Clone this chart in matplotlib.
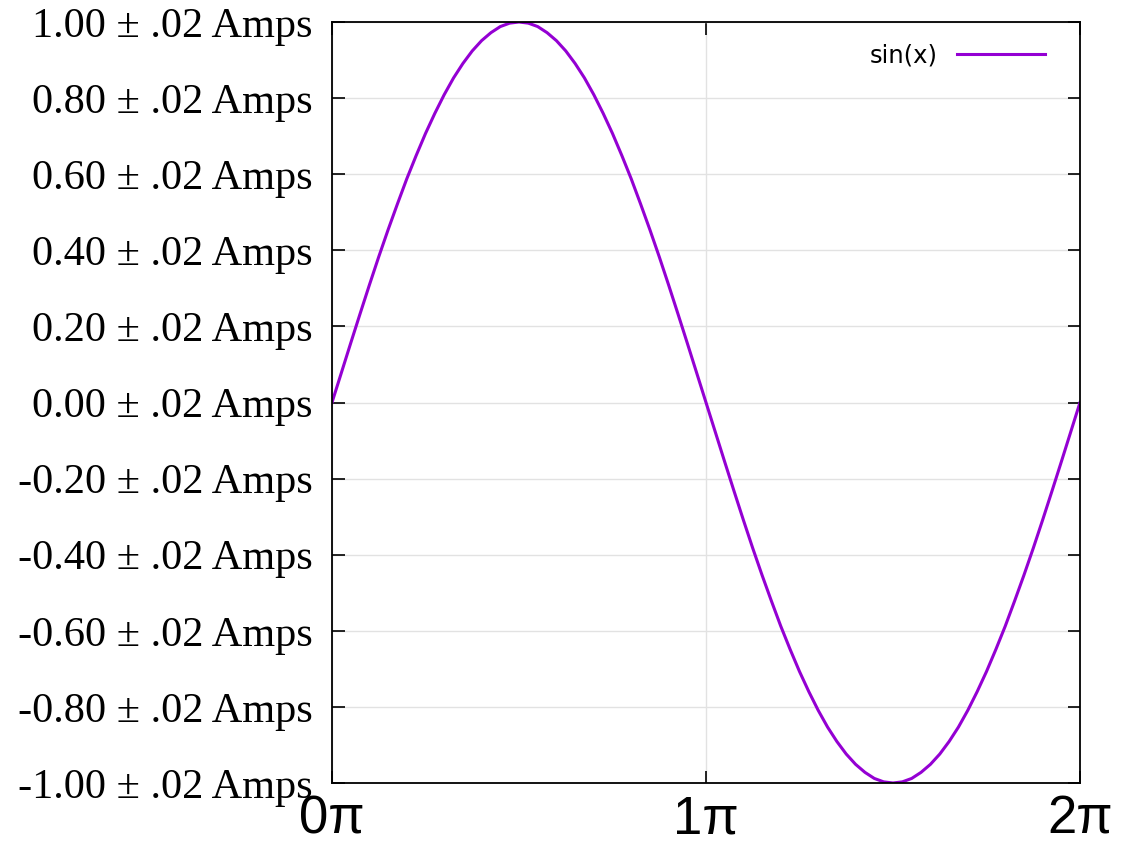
import matplotlib
matplotlib.use("Agg")
import matplotlib.pyplot as plt

# x positions in units of pi
x_pi = [0.000, 0.025, 0.050, 0.075, 0.100, 0.125, 0.150, 0.175, 0.200, 0.225,
        0.250, 0.275, 0.300, 0.325, 0.350, 0.375, 0.400, 0.425, 0.450, 0.475,
        0.500, 0.525, 0.550, 0.575, 0.600, 0.625, 0.650, 0.675, 0.700, 0.725,
        0.750, 0.775, 0.800, 0.825, 0.850, 0.875, 0.900, 0.925, 0.950, 0.975,
        1.000, 1.025, 1.050, 1.075, 1.100, 1.125, 1.150, 1.175, 1.200, 1.225,
        1.250, 1.275, 1.300, 1.325, 1.350, 1.375, 1.400, 1.425, 1.450, 1.475,
        1.500, 1.525, 1.550, 1.575, 1.600, 1.625, 1.650, 1.675, 1.700, 1.725,
        1.750, 1.775, 1.800, 1.825, 1.850, 1.875, 1.900, 1.925, 1.950, 1.975, 2.000]
amps = [0.000, 0.078, 0.156, 0.233, 0.309, 0.383, 0.454, 0.522, 0.588, 0.649,
        0.707, 0.760, 0.809, 0.853, 0.891, 0.924, 0.951, 0.972, 0.988, 0.997,
        1.000, 0.997, 0.988, 0.972, 0.951, 0.924, 0.891, 0.853, 0.809, 0.760,
        0.707, 0.649, 0.588, 0.522, 0.454, 0.383, 0.309, 0.233, 0.156, 0.078,
        0.000, -0.078, -0.156, -0.233, -0.309, -0.383, -0.454, -0.522, -0.588, -0.649,
        -0.707, -0.760, -0.809, -0.853, -0.891, -0.924, -0.951, -0.972, -0.988, -0.997,
        -1.000, -0.997, -0.988, -0.972, -0.951, -0.924, -0.891, -0.853, -0.809, -0.760,
        -0.707, -0.649, -0.588, -0.522, -0.454, -0.383, -0.309, -0.233, -0.156, -0.078, 0.000]

xticks = [0, 1, 2]
xlabels = ["0\u03c0", "1\u03c0", "2\u03c0"]
yticks = [-1.0, -0.8, -0.6, -0.4, -0.2, 0.0, 0.2, 0.4, 0.6, 0.8, 1.0]
ylabels = ["%.2f \u00b1 .02 Amps" % v for v in yticks]

fig = plt.figure(figsize=(11.21, 8.44), dpi=100)
ax = fig.add_axes([332/1121, 1 - 783/844, (1080-332)/1121, (783-22)/844])

ax.plot(x_pi, amps, color="#9400d3", lw=2.2, label="sin(x)",
        solid_joinstyle="round")

ax.set_xlim(0, 2)
ax.set_ylim(-1, 1)
ax.set_xticks(xticks)
ax.set_xticklabels(xlabels, family="Liberation Sans", fontsize=38)
ax.set_yticks(yticks)
ax.set_yticklabels(ylabels, family="Liberation Serif", fontsize=30.5)

ax.tick_params(direction="in", length=9, width=1.2, top=True, right=True, colors="black")
ax.tick_params(axis="x", pad=8)
ax.tick_params(axis="y", pad=14)
ax.grid(True, color="#e2e2e2", lw=1)
for s in ax.spines.values():
    s.set_linewidth(1.3)

leg = ax.legend(loc="upper right", bbox_to_anchor=(0.966, 0.985), frameon=False,
                markerfirst=False, fontsize=17.5, handlelength=3.6,
                handletextpad=0.8, borderaxespad=0)

fig.savefig("out.png", dpi=100)
